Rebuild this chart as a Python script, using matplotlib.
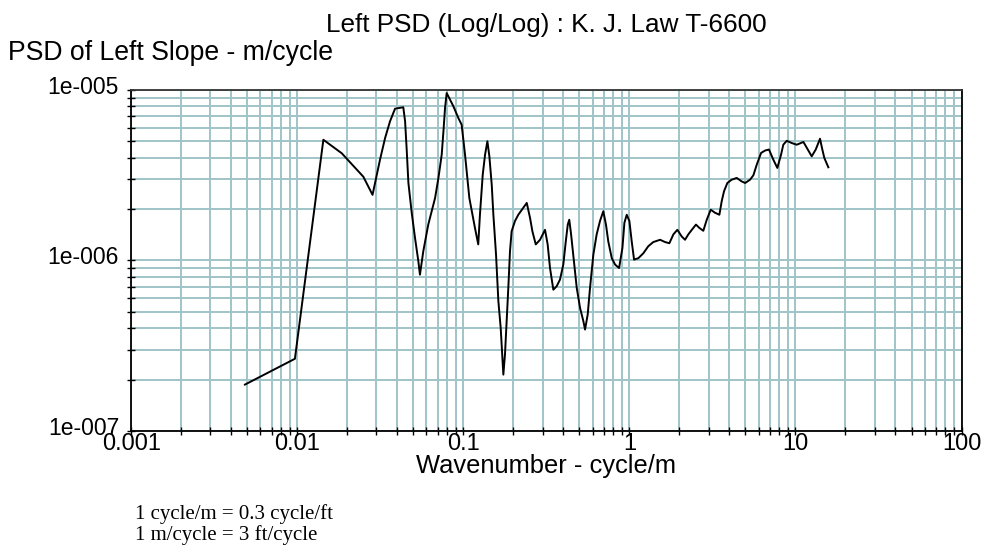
import matplotlib
matplotlib.use("Agg")
import matplotlib.pyplot as plt
from matplotlib.ticker import LogLocator, NullFormatter, FixedLocator, FixedFormatter
from matplotlib.transforms import ScaledTranslation

# Left-wheel slope PSD, K. J. Law T-6600 profilometer
wavenumber = [
    0.00484, 0.00968, 0.01436, 0.01854, 0.0250, 0.0284, 0.0315, 0.0338,
    0.0362, 0.0388, 0.0435, 0.0446, 0.0456, 0.0467, 0.0489, 0.0512,
    0.0536, 0.0548, 0.0574, 0.0615, 0.0676, 0.0708, 0.0741, 0.0759,
    0.0776, 0.0794, 0.0871, 0.0933, 0.0977, 0.1024, 0.1087, 0.1175,
    0.1230, 0.1259, 0.1309, 0.1352, 0.1396, 0.1435, 0.1483, 0.1517,
    0.1574, 0.1626, 0.1679, 0.1742, 0.1782, 0.1824, 0.1866, 0.1910,
    0.1954, 0.2047, 0.2143, 0.2296, 0.2410, 0.2523, 0.2606, 0.2730,
    0.2897, 0.3105, 0.3220, 0.3327, 0.3484, 0.3648, 0.3820, 0.4000,
    0.4140, 0.4256, 0.4345, 0.4456, 0.4592, 0.4820, 0.5047, 0.5284,
    0.5408, 0.5610, 0.5794, 0.6067, 0.6353, 0.6653, 0.6966, 0.7228,
    0.7464, 0.7834, 0.8204, 0.8670, 0.9078, 0.9333, 0.964, 1.000,
    1.033, 1.067, 1.133, 1.213, 1.300, 1.393, 1.531, 1.640,
    1.741, 1.841, 1.945, 2.066, 2.163, 2.265, 2.377, 2.518,
    2.637, 2.787, 2.924, 3.090, 3.281, 3.483, 3.597, 3.715,
    3.890, 4.130, 4.430, 4.750, 4.980, 5.330, 5.580, 5.850,
    6.210, 6.560, 6.930, 7.360, 7.780, 8.190, 8.450, 8.870,
    9.500, 10.18, 11.17, 11.86, 12.53, 13.25, 14.06, 14.52,
    14.93, 15.78,
]
psd = [
    1.87e-7, 2.65e-7, 5.09e-6, 4.24e-6, 3.09e-6, 2.42e-6, 3.89e-6, 5.21e-6,
    6.53e-6, 7.74e-6, 7.89e-6, 6.53e-6, 4.46e-6, 2.84e-6, 1.90e-6, 1.35e-6,
    9.88e-7, 8.24e-7, 1.13e-6, 1.62e-6, 2.32e-6, 3.04e-6, 4.16e-6, 5.70e-6,
    7.81e-6, 9.56e-6, 8.00e-6, 6.83e-6, 6.24e-6, 4.16e-6, 2.32e-6, 1.55e-6,
    1.24e-6, 1.85e-6, 3.18e-6, 4.16e-6, 4.99e-6, 4.07e-6, 2.77e-6, 1.85e-6,
    1.08e-6, 5.75e-7, 4.02e-7, 2.14e-7, 2.81e-7, 4.40e-7, 6.89e-7, 1.13e-6,
    1.48e-6, 1.70e-6, 1.85e-6, 2.03e-6, 2.17e-6, 1.77e-6, 1.48e-6, 1.24e-6,
    1.32e-6, 1.51e-6, 1.24e-6, 9.02e-7, 6.73e-7, 7.05e-7, 7.71e-7, 9.44e-7,
    1.29e-6, 1.62e-6, 1.73e-6, 1.42e-6, 1.08e-6, 6.89e-7, 5.26e-7, 4.40e-7,
    3.93e-7, 4.81e-7, 6.89e-7, 1.08e-6, 1.42e-6, 1.70e-6, 1.94e-6, 1.62e-6,
    1.29e-6, 1.03e-6, 9.44e-7, 9.02e-7, 1.18e-6, 1.66e-6, 1.85e-6, 1.70e-6,
    1.29e-6, 1.01e-6, 1.03e-6, 1.10e-6, 1.21e-6, 1.28e-6, 1.32e-6, 1.28e-6,
    1.26e-6, 1.42e-6, 1.51e-6, 1.38e-6, 1.32e-6, 1.42e-6, 1.51e-6, 1.62e-6,
    1.55e-6, 1.49e-6, 1.73e-6, 1.98e-6, 1.90e-6, 1.85e-6, 2.22e-6, 2.54e-6,
    2.84e-6, 2.97e-6, 3.04e-6, 2.90e-6, 2.84e-6, 2.97e-6, 3.15e-6, 3.64e-6,
    4.26e-6, 4.40e-6, 4.46e-6, 3.89e-6, 3.48e-6, 4.16e-6, 4.76e-6, 5.02e-6,
    4.87e-6, 4.76e-6, 4.94e-6, 4.46e-6, 4.07e-6, 4.46e-6, 5.16e-6, 4.46e-6,
    3.98e-6, 3.51e-6,
]

x_ticks = [0.001, 0.01, 0.1, 1, 10, 100]
x_tick_labels = ["0.001", "0.01", "0.1", "1", "10", "100"]
y_ticks = [1e-7, 1e-6, 1e-5]
y_tick_labels = ["1e-007", "1e-006", "1e-005"]

title = "Left PSD (Log/Log) : K. J. Law T-6600"
y_title = "PSD of Left Slope - m/cycle"
x_title = "Wavenumber - cycle/m"
notes = ["1 cycle/m = 0.3 cycle/ft", "1 m/cycle = 3 ft/cycle"]

sans = ["Liberation Sans", "DejaVu Sans"]
serif = ["Liberation Serif", "DejaVu Serif"]
grid_color = "#a0c4c9"

W, H = 984, 546
fig = plt.figure(figsize=(W / 100, H / 100), dpi=100)
L, R, T, B = 131.2, 961.5, 89.7, 431.0
ax = fig.add_axes([L / W, 1 - B / H, (R - L) / W, (B - T) / H])

ax.plot(wavenumber, psd, color="black", lw=1.4, zorder=3)

ax.set_xscale("log")
ax.set_yscale("log")
ax.set_xlim(1e-3, 1e2)
ax.set_ylim(1e-7, 1e-5)

ax.xaxis.set_major_locator(FixedLocator(x_ticks))
ax.xaxis.set_major_formatter(FixedFormatter(x_tick_labels))
ax.yaxis.set_major_locator(FixedLocator(y_ticks))
ax.yaxis.set_major_formatter(FixedFormatter(y_tick_labels))
for axis in (ax.xaxis, ax.yaxis):
    axis.set_minor_locator(LogLocator(base=10, subs=range(2, 10), numticks=20))
    axis.set_minor_formatter(NullFormatter())

ax.grid(True, which="both", color=grid_color, lw=1.4, zorder=1)
ax.set_axisbelow(True)

ax.tick_params(which="both", direction="inout", length=5.5, width=1.0,
               color="black", top=False, right=False)
ax.tick_params(axis="x", which="major", pad=-1.3, labelsize=17)
ax.tick_params(axis="y", which="major", pad=6.0, labelsize=16.5)
for lab in ax.get_xticklabels() + ax.get_yticklabels():
    lab.set_family(sans)

# value labels sit slightly above their grid lines
lift = ScaledTranslation(0, 5 / 100, fig.dpi_scale_trans)
for tick in ax.yaxis.get_major_ticks():
    tick.label1.set_transform(tick.label1.get_transform() + lift)

for side, sp in ax.spines.items():
    sp.set_color("black" if side in ("left", "bottom", "right") else "#333333")
    sp.set_linewidth(1.3)
    sp.set_zorder(4)

cx = (L + R) / 2 / W
fig.text(cx, 1 - 32 / H, title, ha="center", va="baseline", fontsize=18.8, family=sans)
fig.text(8 / W, 1 - 60 / H, y_title, ha="left", va="baseline", fontsize=19.2, family=sans)
fig.text(cx, 1 - 473 / H, x_title, ha="center", va="baseline", fontsize=18.4, family=sans)
fig.text(135 / W, 1 - 519 / H, notes[0], ha="left", va="baseline", fontsize=15, family=serif)
fig.text(135 / W, 1 - 540 / H, notes[1], ha="left", va="baseline", fontsize=15, family=serif)

fig.savefig("out.png", dpi=100)
